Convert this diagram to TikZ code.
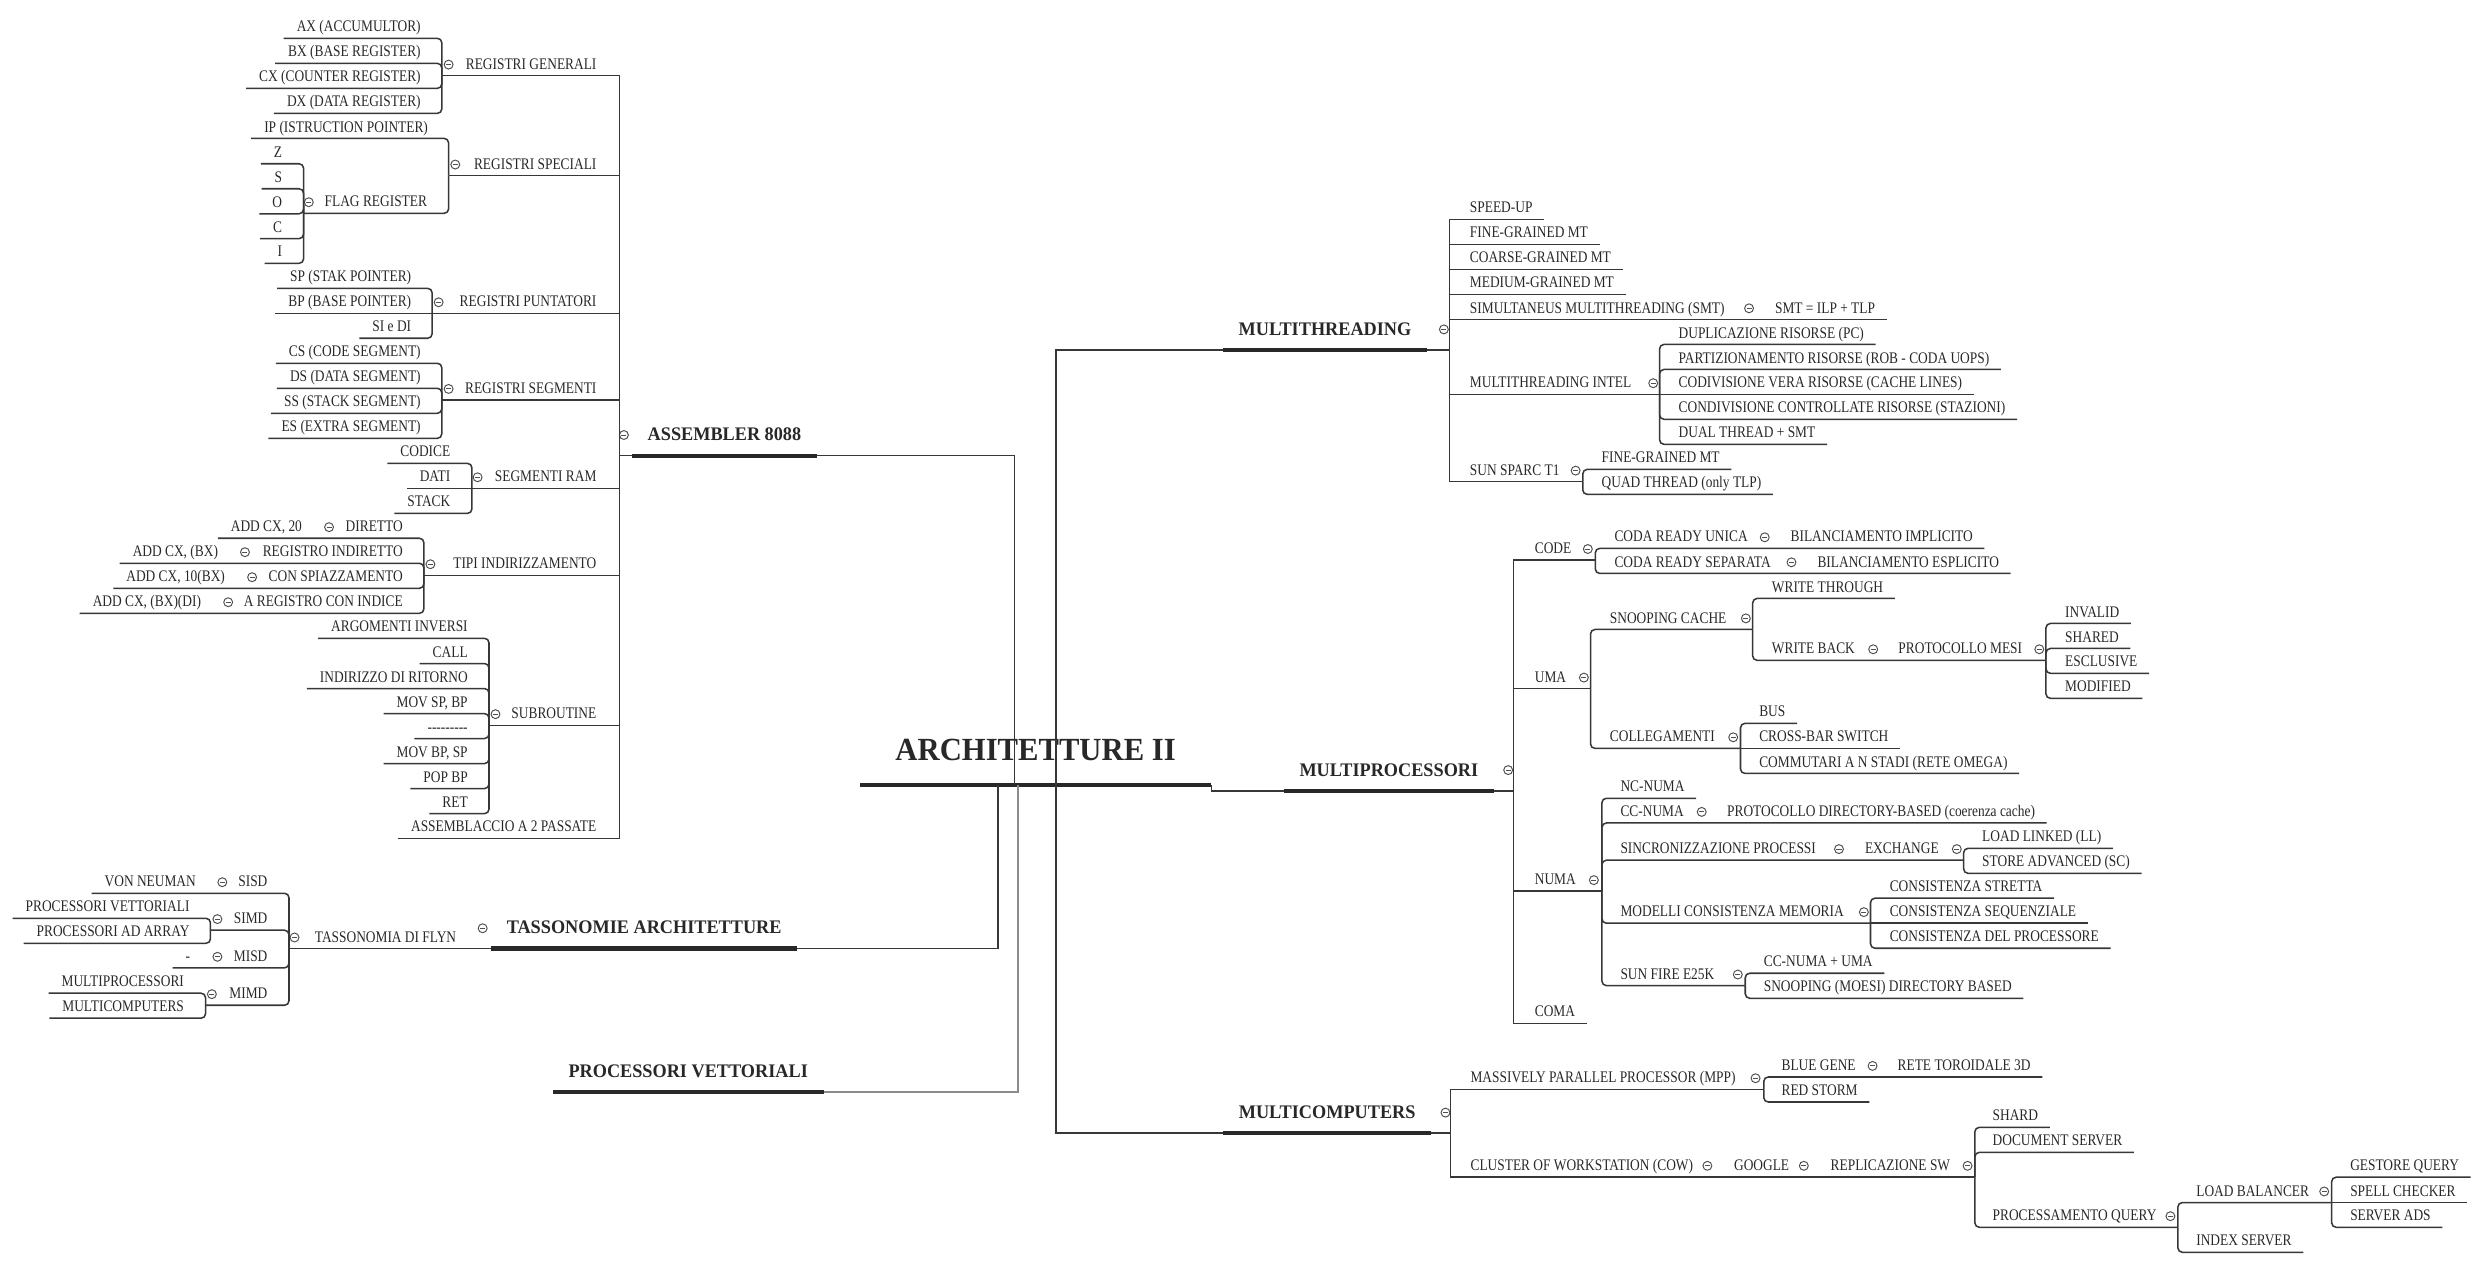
\documentclass[tikz,border=0pt]{standalone}
\usepackage{fontspec}
\setmainfont{Liberation Serif}[FakeStretch=0.83]
\newfontfamily\headfont{Liberation Serif}[FakeStretch=0.95]
\definecolor{inkgray}{RGB}{40,40,40}
\definecolor{wiregray}{RGB}{55,55,55}
\definecolor{palegray}{RGB}{140,140,140}
\definecolor{toggray}{RGB}{80,80,80}
\tikzset{
	leaf/.style={font=\fontsize{5.8pt}{6pt}\selectfont, text=inkgray, inner sep=0pt, text depth=2.1pt},
	rleaf/.style={leaf, anchor=south west},
	lleaf/.style={leaf, anchor=south east},
	topic/.style={font=\headfont\bfseries\fontsize{6.9pt}{7pt}\selectfont, text=inkgray, inner xsep=5.5pt, inner ysep=0pt, text depth=5.1pt, anchor=south west},
	hub/.style={topic, font=\headfont\bfseries\fontsize{11.6pt}{12pt}\selectfont, inner xsep=12.6pt, text depth=8.7pt},
	wire/.style={draw=wiregray, line width=0.55pt},
	twig/.style={wire, rounded corners=1.6pt},
	bar/.style={draw=inkgray, line width=1.5pt},
	tog/.style={circle, draw=toggray, line width=0.35pt, minimum size=3.2pt, inner sep=0pt,
		path picture={\draw[toggray, line width=0.35pt] ([xshift=-0.9pt]path picture bounding box.center) -- ([xshift=0.9pt]path picture bounding box.center);}},
}

\begin{document}
\begin{tikzpicture}[x=0.02cm, y=-0.02cm]
	\useasboundingbox (0,0) rectangle (1568,801);

	\node[hub] (arch) at (543,495.8) {ARCHITETTURE II};
	\draw[bar] (arch.south west) -- (arch.south east);

	\node[topic] (asm) at (399,287.7) {ASSEMBLER 8088};
	\draw[bar] (asm.south west) -- (asm.south east);
	\node[topic] (tax) at (310,599) {TASSONOMIE ARCHITETTURE};
	\draw[bar] (tax.south west) -- (tax.south east);
	\node[topic] (pvec) at (349,689.6) {PROCESSORI VETTORIALI};
	\draw[bar] (pvec.south west) -- (pvec.south east);
	\node[topic] (mth) at (772.2,221.1) {MULTITHREADING};
	\draw[bar] (mth.south west) -- (mth.south east);
	\node[topic] (mpr) at (810.6,499.5) {MULTIPROCESSORI};
	\draw[bar] (mpr.south west) -- (mpr.south east);
	\node[topic] (mco) at (772.3,715.5) {MULTICOMPUTERS};
	\draw[bar] (mco.south west) -- (mco.south east);

	\coordinate (j-asm) at (640.5,495.8);
	\coordinate (j-tax) at (630.2,495.8);
	\coordinate (j-pv) at (642.8,495.8);
	\coordinate (j-mt) at (667,495.8);
	\draw[wire] (asm.south east) -| (j-asm);
	\draw[wire] (tax.south east) -| (j-tax);
	\draw[wire, draw=palegray] (pvec.south east) -| (j-pv);
	\draw[wire] (mth.south west) -| (j-mt);
	\draw[wire] (mco.south west) -| (j-mt);
	\draw[wire] (arch.south east) |- (mpr.south west);

	\coordinate (b-asm) at (391.2,287.7);
	\node[tog] (o-asm) at (394,274.7) {};
	\draw[wire] (asm.south west) -- (b-asm);

	\node[lleaf] (rgen) at (377,47.8) {REGISTRI GENERALI};
	\node[tog] (o-rgen) at (283.3,40.8) {};
	\coordinate (b-rgen) at (279,47.8);
	\draw[wire] (b-asm) |- (b-rgen);
	\node[lleaf] (ax) at (266,24.2) {AX (ACCUMULTOR)};
	\node[lleaf] (bx) at (266,40) {BX (BASE REGISTER)};
	\node[lleaf] (cx) at (266,55.8) {CX (COUNTER REGISTER)};
	\node[lleaf] (dx) at (266,71.6) {DX (DATA REGISTER)};
	\draw[twig] (b-rgen) |- ([xshift=-4.5pt]ax.south west);
	\draw[twig] (b-rgen) |- ([xshift=-4.5pt]bx.south west);
	\draw[twig] (b-rgen) |- ([xshift=-4.5pt]cx.south west);
	\draw[twig] (b-rgen) |- ([xshift=-4.5pt]dx.south west);

	\node[lleaf] (rspe) at (377,110.9) {REGISTRI SPECIALI};
	\node[tog] (o-rspe) at (287.5,103.9) {};
	\coordinate (b-rspe) at (283.3,110.9);
	\draw[wire] (b-asm) |- (b-rspe);
	\node[lleaf] (ip) at (270.6,87.4) {IP (ISTRUCTION POINTER)};
	\draw[twig] (b-rspe) |- ([xshift=-4.5pt]ip.south west);
	\node[lleaf] (flag) at (270,134.7) {FLAG REGISTER};
	\node[tog] (o-flag) at (195,127.7) {};
	\coordinate (b-flag) at (191.7,134.7);
	\draw[twig] (b-rspe) |- (b-flag);
	\node[lleaf] (fz) at (178.5,103.4) {Z};
	\node[lleaf] (fs) at (178.5,119.2) {S};
	\node[lleaf] (fo) at (178.5,135) {O};
	\node[lleaf] (fc) at (178.5,150.7) {C};
	\node[lleaf] (fi) at (178.5,166.3) {I};
	\draw[twig] (b-flag) |- ([xshift=-4.5pt]fz.south west);
	\draw[twig] (b-flag) |- ([xshift=-4.5pt]fs.south west);
	\draw[twig] (b-flag) |- ([xshift=-4.5pt]fo.south west);
	\draw[twig] (b-flag) |- ([xshift=-4.5pt]fc.south west);
	\draw[twig] (b-flag) |- ([xshift=-4.5pt]fi.south west);

	\node[lleaf] (rpun) at (377,197.9) {REGISTRI PUNTATORI};
	\node[tog] (o-rpun) at (277,190.9) {};
	\coordinate (b-rpun) at (272.9,197.9);
	\draw[wire] (b-asm) |- (b-rpun);
	\node[lleaf] (sp) at (260,182.1) {SP (STAK POINTER)};
	\node[lleaf] (bp) at (260,197.9) {BP (BASE POINTER)};
	\node[lleaf] (sidi) at (260,213.6) {SI e DI};
	\draw[twig] (b-rpun) |- ([xshift=-4.5pt]sp.south west);
	\draw[wire] (b-rpun) -- ([xshift=-4.5pt]bp.south west);
	\draw[twig] (b-rpun) |- ([xshift=-4.5pt]sidi.south west);

	\node[lleaf] (rseg) at (377,252.6) {REGISTRI SEGMENTI};
	\node[tog] (o-rseg) at (283.3,245.6) {};
	\coordinate (b-rseg) at (279,252.6);
	\draw[wire] (b-asm) |- (b-rseg);
	\node[lleaf] (cs) at (266,229.4) {CS (CODE SEGMENT)};
	\node[lleaf] (ds) at (266,245.2) {DS (DATA SEGMENT)};
	\node[lleaf] (ss) at (266,261) {SS (STACK SEGMENT)};
	\node[lleaf] (es) at (266,276.8) {ES (EXTRA SEGMENT)};
	\draw[twig] (b-rseg) |- ([xshift=-4.5pt]cs.south west);
	\draw[twig] (b-rseg) |- ([xshift=-4.5pt]ds.south west);
	\draw[twig] (b-rseg) |- ([xshift=-4.5pt]ss.south west);
	\draw[twig] (b-rseg) |- ([xshift=-4.5pt]es.south west);

	\node[lleaf] (sram) at (377,308.4) {SEGMENTI RAM};
	\node[tog] (o-sram) at (301.6,301.4) {};
	\coordinate (b-sram) at (298,308.4);
	\draw[wire] (b-asm) |- (b-sram);
	\node[lleaf] (codice) at (284.7,292.6) {CODICE};
	\node[lleaf] (dati) at (284.7,308.4) {DATI};
	\node[lleaf] (stack) at (284.7,324.2) {STACK};
	\draw[twig] (b-sram) |- ([xshift=-4.5pt]codice.south west);
	\draw[wire] (b-sram) -- ([xshift=-4.5pt]dati.south west);
	\draw[twig] (b-sram) |- ([xshift=-4.5pt]stack.south west);

	\node[lleaf] (tind) at (376.9,363.3) {TIPI INDIRIZZAMENTO};
	\node[tog] (o-tind) at (271.8,356.3) {};
	\coordinate (b-tind) at (267.7,363.3);
	\draw[wire] (b-asm) |- (b-tind);
	\node[lleaf] (dir) at (254.7,339.9) {DIRETTO};
	\node[tog] (o-dir) at (207.8,332.9) {};
	\node[lleaf] (dir1) at (191,339.9) {ADD CX, 20};
	\node[lleaf] (rind) at (254.7,355.7) {REGISTRO INDIRETTO};
	\node[tog] (o-rind) at (154.7,348.7) {};
	\node[lleaf] (rind1) at (138,355.7) {ADD CX, (BX)};
	\node[lleaf] (spi) at (254.7,371.5) {CON SPIAZZAMENTO};
	\node[tog] (o-spi) at (159.2,364.5) {};
	\node[lleaf] (spi1) at (142.4,371.5) {ADD CX, 10(BX)};
	\node[lleaf] (ridx) at (254.7,387.3) {A REGISTRO CON INDICE};
	\node[tog] (o-ridx) at (144.1,380.3) {};
	\node[lleaf] (ridx1) at (127.3,387.3) {ADD CX, (BX)(DI)};
	\draw[twig] (b-tind) |- ([xshift=-4.5pt]dir1.south west);
	\draw[twig] (b-tind) |- ([xshift=-4.5pt]rind1.south west);
	\draw[twig] (b-tind) |- ([xshift=-4.5pt]spi1.south west);
	\draw[twig] (b-tind) |- ([xshift=-4.5pt]ridx1.south west);

	\node[lleaf] (sub) at (376.9,458) {SUBROUTINE};
	\node[tog] (o-sub) at (312.9,451) {};
	\coordinate (b-sub) at (308.8,458);
	\draw[wire] (b-asm) |- (b-sub);
	\node[lleaf] (s1) at (295.7,403.1) {ARGOMENTI INVERSI};
	\node[lleaf] (s2) at (295.7,419) {CALL};
	\node[lleaf] (s3) at (295.7,434.8) {INDIRIZZO DI RITORNO};
	\node[lleaf] (s4) at (295.7,450.6) {MOV SP, BP};
	\node[lleaf] (s5) at (295.7,466.4) {{-}{-}{-}{-}{-}{-}{-}{-}{-}};
	\node[lleaf] (s6) at (295.7,482.2) {MOV BP, SP};
	\node[lleaf] (s7) at (295.7,498) {POP BP};
	\node[lleaf] (s8) at (295.7,513.8) {RET};
	\draw[twig] (b-sub) |- ([xshift=-4.5pt]s1.south west);
	\draw[twig] (b-sub) |- ([xshift=-4.5pt]s2.south west);
	\draw[twig] (b-sub) |- ([xshift=-4.5pt]s3.south west);
	\draw[twig] (b-sub) |- ([xshift=-4.5pt]s4.south west);
	\draw[twig] (b-sub) |- ([xshift=-4.5pt]s5.south west);
	\draw[twig] (b-sub) |- ([xshift=-4.5pt]s6.south west);
	\draw[twig] (b-sub) |- ([xshift=-4.5pt]s7.south west);
	\draw[twig] (b-sub) |- ([xshift=-4.5pt]s8.south west);

	\node[lleaf] (pass2) at (376.9,529.4) {ASSEMBLACCIO A 2 PASSATE};
	\draw[wire] (b-asm) |- ([xshift=-4.5pt]pass2.south west);

	\node[tog] (o-tax) at (304.8,586.2) {};
	\node[lleaf] (flyn) at (288.4,599) {TASSONOMIA DI FLYN};
	\node[tog] (o-flyn) at (186,592) {};
	\coordinate (b-flyn) at (182.5,599);
	\draw[wire] (tax.south west) -- (b-flyn);
	\node[lleaf] (sisd) at (169.2,564.1) {SISD};
	\node[tog] (o-sisd) at (140.4,557.1) {};
	\node[lleaf] (vonn) at (124,564.1) {VON NEUMAN};
	\draw[twig] (b-flyn) |- ([xshift=-4.5pt]vonn.south west);
	\node[lleaf] (simd) at (169.2,587.4) {SIMD};
	\node[tog] (o-simd) at (137.3,580.4) {};
	\coordinate (b-simd) at (132.9,587.4);
	\draw[twig] (b-flyn) |- (b-simd);
	\node[lleaf] (pvet) at (120,579.9) {PROCESSORI VETTORIALI};
	\node[lleaf] (parr) at (120,595.7) {PROCESSORI AD ARRAY};
	\draw[twig] (b-simd) |- ([xshift=-4.5pt]pvet.south west);
	\draw[twig] (b-simd) |- ([xshift=-4.5pt]parr.south west);
	\node[lleaf] (misd) at (169.2,611.2) {MISD};
	\node[tog] (o-misd) at (137.3,604.2) {};
	\node[lleaf] (nada) at (120.4,611.2) {-};
	\draw[twig] (b-flyn) |- ([xshift=-4.5pt]nada.south west);
	\node[lleaf] (mimd) at (169.2,634.8) {MIMD};
	\node[tog] (o-mimd) at (133.8,627.8) {};
	\coordinate (b-mimd) at (129.8,634.8);
	\draw[twig] (b-flyn) |- (b-mimd);
	\node[lleaf] (mproc) at (116.5,627.2) {MULTIPROCESSORI};
	\node[lleaf] (mcomp) at (116.5,643) {MULTICOMPUTERS};
	\draw[twig] (b-mimd) |- ([xshift=-4.5pt]mproc.south west);
	\draw[twig] (b-mimd) |- ([xshift=-4.5pt]mcomp.south west);

	\node[tog] (o-mth) at (911.8,208) {};
	\coordinate (b-mth) at (915.3,221.1);
	\draw[wire] (mth.south east) -- (b-mth);
	\node[rleaf] (spd) at (927.9,138.5) {SPEED-UP};
	\node[rleaf] (fgm) at (927.9,154.3) {FINE-GRAINED MT};
	\node[rleaf] (cgm) at (927.9,170.1) {COARSE-GRAINED MT};
	\node[rleaf] (mgm) at (927.9,185.9) {MEDIUM-GRAINED MT};
	\node[rleaf] (smt) at (927.9,201.7) {SIMULTANEUS MULTITHREADING (SMT)};
	\node[tog] (o-smt) at (1104.5,194.7) {};
	\node[rleaf] (smt1) at (1120.6,201.7) {SMT = ILP + TLP};
	\draw[wire] (b-mth) |- ([xshift=4pt]spd.south east);
	\draw[wire] (b-mth) |- ([xshift=4pt]fgm.south east);
	\draw[wire] (b-mth) |- ([xshift=4pt]cgm.south east);
	\draw[wire] (b-mth) |- ([xshift=4pt]mgm.south east);
	\draw[wire] (b-mth) |- ([xshift=4pt]smt1.south east);
	\node[rleaf] (intel) at (927.9,249) {MULTITHREADING INTEL};
	\node[tog] (o-intel) at (1044,242) {};
	\coordinate (b-intel) at (1048,249);
	\draw[wire] (b-mth) |- (b-intel);
	\node[rleaf] (dup) at (1059.7,217.5) {DUPLICAZIONE RISORSE (PC)};
	\node[rleaf] (part) at (1059.7,233.3) {PARTIZIONAMENTO RISORSE (ROB - CODA UOPS)};
	\node[rleaf] (cvera) at (1059.7,249) {CODIVISIONE VERA RISORSE (CACHE LINES)};
	\node[rleaf] (ctrl) at (1059.7,264.8) {CONDIVISIONE CONTROLLATE RISORSE (STAZIONI)};
	\node[rleaf] (dual) at (1059.7,280.6) {DUAL THREAD + SMT};
	\draw[twig] (b-intel) |- ([xshift=4pt]dup.south east);
	\draw[twig] (b-intel) |- ([xshift=4pt]part.south east);
	\draw[wire] (b-intel) -- ([xshift=4pt]cvera.south east);
	\draw[twig] (b-intel) |- ([xshift=4pt]ctrl.south east);
	\draw[twig] (b-intel) |- ([xshift=4pt]dual.south east);
	\node[rleaf] (sun) at (927.9,304.2) {SUN SPARC T1};
	\node[tog] (o-sun) at (995,297.2) {};
	\coordinate (b-sun) at (999.5,304.2);
	\draw[wire] (b-mth) |- (b-sun);
	\node[rleaf] (sfg) at (1011.1,296.4) {FINE-GRAINED MT};
	\node[rleaf] (quad) at (1011.1,312.2) {QUAD THREAD (only TLP)};
	\draw[twig] (b-sun) |- ([xshift=4pt]sfg.south east);
	\draw[twig] (b-sun) |- ([xshift=4pt]quad.south east);

	\node[tog] (o-mpr) at (952.4,486.3) {};
	\coordinate (b-mpr) at (955.9,499.5);
	\draw[wire] (mpr.south east) -- (b-mpr);
	\node[rleaf] (code) at (968.9,353.7) {CODE};
	\node[tog] (o-code) at (1002.7,346.7) {};
	\coordinate (b-code) at (1007.4,353.7);
	\draw[wire] (b-mpr) |- (b-code);
	\node[rleaf] (unica) at (1019.2,346.3) {CODA READY UNICA};
	\node[tog] (o-unica) at (1114.4,339.3) {};
	\node[rleaf] (bimp) at (1130.4,346.3) {BILANCIAMENTO IMPLICITO};
	\node[rleaf] (sepa) at (1019.2,362.1) {CODA READY SEPARATA};
	\node[tog] (o-sepa) at (1131.3,355.1) {};
	\node[rleaf] (besp) at (1147.4,362.1) {BILANCIAMENTO ESPLICITO};
	\draw[twig] (b-code) |- ([xshift=4pt]bimp.south east);
	\draw[twig] (b-code) |- ([xshift=4pt]besp.south east);

	\node[rleaf] (uma) at (968.9,434.9) {UMA};
	\node[tog] (o-uma) at (1000.2,427.9) {};
	\coordinate (b-uma) at (1004.4,434.9);
	\draw[wire] (b-mpr) |- (b-uma);
	\node[rleaf] (snoop) at (1016.3,397.5) {SNOOPING CACHE};
	\node[tog] (o-snoop) at (1102.5,390.5) {};
	\coordinate (b-snoop) at (1106.8,397.5);
	\draw[twig] (b-uma) |- (b-snoop);
	\node[rleaf] (wt) at (1118.6,377.9) {WRITE THROUGH};
	\draw[twig] (b-snoop) |- ([xshift=4pt]wt.south east);
	\node[rleaf] (wb) at (1118.6,417) {WRITE BACK};
	\node[tog] (o-wb) at (1182.9,410) {};
	\node[rleaf] (mesi) at (1198.5,417) {PROTOCOLLO MESI};
	\node[tog] (o-mesi) at (1287.8,410) {};
	\coordinate (b-mesi) at (1292,417);
	\draw[twig] (b-snoop) |- (b-mesi);
	\node[rleaf] (inv) at (1303.8,393.7) {INVALID};
	\node[rleaf] (shr) at (1303.8,409.5) {SHARED};
	\node[rleaf] (esc) at (1303.8,425.2) {ESCLUSIVE};
	\node[rleaf] (modf) at (1303.8,441) {MODIFIED};
	\draw[twig] (b-mesi) |- ([xshift=4pt]inv.south east);
	\draw[twig] (b-mesi) |- ([xshift=4pt]shr.south east);
	\draw[twig] (b-mesi) |- ([xshift=4pt]esc.south east);
	\draw[twig] (b-mesi) |- ([xshift=4pt]modf.south east);
	\node[rleaf] (coll) at (1016.3,472.6) {COLLEGAMENTI};
	\node[tog] (o-coll) at (1094.5,465.6) {};
	\coordinate (b-coll) at (1099.1,472.6);
	\draw[twig] (b-uma) |- (b-coll);
	\node[rleaf] (bus) at (1110.6,456.8) {BUS};
	\node[rleaf] (xbar) at (1110.6,472.6) {CROSS-BAR SWITCH};
	\node[rleaf] (omega) at (1110.6,488.4) {COMMUTARI A N STADI (RETE OMEGA)};
	\draw[twig] (b-coll) |- ([xshift=4pt]bus.south east);
	\draw[wire] (b-coll) -- ([xshift=4pt]xbar.south east);
	\draw[twig] (b-coll) |- ([xshift=4pt]omega.south east);

	\node[rleaf] (numa) at (968.9,562.8) {NUMA};
	\node[tog] (o-numa) at (1006.5,555.8) {};
	\coordinate (b-numa) at (1011.6,562.8);
	\draw[wire] (b-mpr) |- (b-numa);
	\node[rleaf] (ncn) at (1023,504.1) {NC-NUMA};
	\draw[twig] (b-numa) |- ([xshift=4pt]ncn.south east);
	\node[rleaf] (ccn) at (1023,519.7) {CC-NUMA};
	\node[tog] (o-ccn) at (1074.6,512.7) {};
	\node[rleaf] (dirb) at (1090.3,519.7) {PROTOCOLLO DIRECTORY-BASED (coerenza cache)};
	\draw[twig] (b-numa) |- ([xshift=4pt]dirb.south east);
	\node[rleaf] (sinc) at (1023,543.2) {SINCRONIZZAZIONE PROCESSI};
	\node[tog] (o-sinc) at (1161.3,536.2) {};
	\node[rleaf] (xchg) at (1177.4,543.2) {EXCHANGE};
	\node[tog] (o-xchg) at (1235.7,536.2) {};
	\coordinate (b-xchg) at (1240,543.2);
	\draw[twig] (b-numa) |- (b-xchg);
	\node[rleaf] (ll) at (1251.4,535.7) {LOAD LINKED (LL)};
	\node[rleaf] (sc) at (1251.4,551.5) {STORE ADVANCED (SC)};
	\draw[twig] (b-xchg) |- ([xshift=4pt]ll.south east);
	\draw[twig] (b-xchg) |- ([xshift=4pt]sc.south east);
	\node[rleaf] (cmem) at (1023,583) {MODELLI CONSISTENZA MEMORIA};
	\node[tog] (o-cmem) at (1177,576) {};
	\coordinate (b-cmem) at (1181.2,583);
	\draw[twig] (b-numa) |- (b-cmem);
	\node[rleaf] (cstr) at (1193,567.2) {CONSISTENZA STRETTA};
	\node[rleaf] (cseq) at (1193,583) {CONSISTENZA SEQUENZIALE};
	\node[rleaf] (cpro) at (1193,598.8) {CONSISTENZA DEL PROCESSORE};
	\draw[twig] (b-cmem) |- ([xshift=4pt]cstr.south east);
	\draw[wire] (b-cmem) -- ([xshift=4pt]cseq.south east);
	\draw[twig] (b-cmem) |- ([xshift=4pt]cpro.south east);
	\node[rleaf] (sfire) at (1023,622.4) {SUN FIRE E25K};
	\node[tog] (o-sfire) at (1097.4,615.4) {};
	\coordinate (b-sfire) at (1102.1,622.4);
	\draw[twig] (b-numa) |- (b-sfire);
	\node[rleaf] (ccu) at (1113.5,614.6) {CC-NUMA + UMA};
	\node[rleaf] (moesi) at (1113.5,630.4) {SNOOPING (MOESI) DIRECTORY BASED};
	\draw[twig] (b-sfire) |- ([xshift=4pt]ccu.south east);
	\draw[twig] (b-sfire) |- ([xshift=4pt]moesi.south east);

	\node[rleaf] (coma) at (968.9,646.2) {COMA};
	\draw[wire] (b-mpr) |- ([xshift=4pt]coma.south east);

	\node[tog] (o-mco) at (912.8,702.6) {};
	\coordinate (b-mco) at (915.9,715.5);
	\draw[wire] (mco.south east) -- (b-mco);
	\node[rleaf] (mpp) at (928.3,687.9) {MASSIVELY PARALLEL PROCESSOR (MPP)};
	\node[tog] (o-mpp) at (1108.6,680.9) {};
	\coordinate (b-mpp) at (1113.8,687.9);
	\draw[wire] (b-mco) |- (b-mpp);
	\node[rleaf] (bgene) at (1124.7,680.1) {BLUE GENE};
	\node[tog] (o-bgene) at (1182.5,673.1) {};
	\node[rleaf] (toro) at (1198,680.1) {RETE TOROIDALE 3D};
	\node[rleaf] (rstorm) at (1124.7,695.9) {RED STORM};
	\draw[twig] (b-mpp) |- ([xshift=4pt]toro.south east);
	\draw[twig] (b-mpp) |- ([xshift=4pt]rstorm.south east);
	\node[rleaf] (cow) at (928.3,743.2) {CLUSTER OF WORKSTATION (COW)};
	\node[tog] (o-cow) at (1078.2,736.2) {};
	\node[rleaf] (google) at (1094.7,743.2) {GOOGLE};
	\node[tog] (o-google) at (1139.1,736.2) {};
	\node[rleaf] (repl) at (1155.7,743.2) {REPLICAZIONE SW};
	\node[tog] (o-repl) at (1242.5,736.2) {};
	\coordinate (b-repl) at (1247.1,743.2);
	\draw[wire] (b-mco) |- (b-repl);
	\node[rleaf] (shard) at (1258,711.9) {SHARD};
	\node[rleaf] (docs) at (1258,727.7) {DOCUMENT SERVER};
	\draw[twig] (b-repl) |- ([xshift=4pt]shard.south east);
	\draw[twig] (b-repl) |- ([xshift=4pt]docs.south east);
	\node[rleaf] (pq) at (1258,775) {PROCESSAMENTO QUERY};
	\node[tog] (o-pq) at (1370.6,768) {};
	\coordinate (b-pq) at (1375.3,775);
	\draw[twig] (b-repl) |- (b-pq);
	\node[rleaf] (lb) at (1386.6,759.4) {LOAD BALANCER};
	\node[tog] (o-lb) at (1467.7,752.4) {};
	\coordinate (b-lb) at (1472.4,759.4);
	\draw[twig] (b-pq) |- (b-lb);
	\node[rleaf] (gq) at (1483.8,743.4) {GESTORE QUERY};
	\node[rleaf] (spell) at (1483.8,759.4) {SPELL CHECKER};
	\node[rleaf] (ads) at (1483.8,775) {SERVER ADS};
	\draw[twig] (b-lb) |- ([xshift=4pt]gq.south east);
	\draw[wire] (b-lb) -- ([xshift=4pt]spell.south east);
	\draw[twig] (b-lb) |- ([xshift=4pt]ads.south east);
	\node[rleaf] (idx) at (1386.6,790.8) {INDEX SERVER};
	\draw[twig] (b-pq) |- ([xshift=4pt]idx.south east);
\end{tikzpicture}
\end{document}
